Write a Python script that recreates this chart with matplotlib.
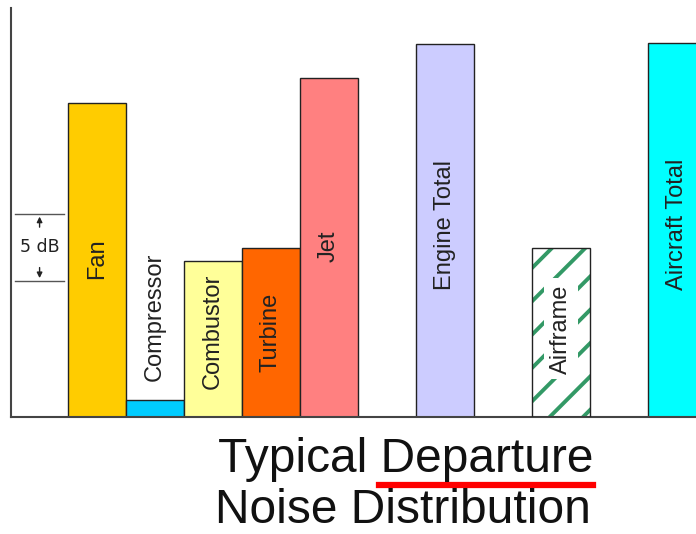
import matplotlib

matplotlib.use("Agg")
import matplotlib.pyplot as plt
from matplotlib.lines import Line2D

# noise sources and their relative levels (dB above baseline)
components = ["Fan", "Compressor", "Combustor", "Turbine", "Jet",
              "Engine Total", "Airframe", "Aircraft Total"]
levels_db = [23.4, 1.3, 11.6, 12.6, 25.3, 27.8, 12.6, 27.9]
scale_db = 5

# layout / style
slots = [0, 1, 2, 3, 4, 6, 8, 10]
colors = ["#FFCC00", "#00CCFF", "#FFFF99", "#FF6600", "#FF8080",
          "#CCCCFF", "#FFFFFF", "#00FFFF"]
label_y = [11.8, 7.46, 6.42, 6.34, 12.76, 14.33, 6.57, 14.4]
scale_lo = 10.15

plt.rcParams["font.family"] = ["Liberation Sans", "DejaVu Sans"]
plt.rcParams["hatch.linewidth"] = 2.8

fig = plt.figure(figsize=(6.96, 5.34), dpi=100)
ax = fig.add_axes([11 / 696, 117 / 534, 685 / 696, 409 / 534])

for name, x, h, c in zip(components, slots, levels_db, colors):
    if name == "Airframe":
        ax.bar(x, h, width=1.0, color="white", edgecolor="#339966",
               hatch="/", linewidth=0, zorder=2)
        ax.bar(x, h, width=1.0, color="none", edgecolor="#222222",
               linewidth=1, zorder=3)
    else:
        ax.bar(x, h, width=1.0, color=c, edgecolor="#222222",
               linewidth=1, zorder=2)

for name, x, y in zip(components, slots, label_y):
    kw = {}
    if name == "Airframe":
        kw["bbox"] = dict(boxstyle="square,pad=0.25", facecolor="white",
                          edgecolor="none")
    ax.text(x, y, name, rotation=90, ha="center", va="center",
            fontsize=17, color="#222222", zorder=4, **kw)

# 5 dB scale marker
for yv in (scale_lo, scale_lo + scale_db):
    ax.plot([-1.41, -0.57], [yv, yv], color="#555555", lw=1, zorder=3)
mid = scale_lo + scale_db / 2
ax.text(-0.99, mid, "5 dB", ha="center", va="center", fontsize=12.5,
        family="DejaVu Sans", color="#222222")
arrow = dict(arrowstyle="-|>", color="#222222", lw=1, mutation_scale=8)
ax.annotate("", xy=(-0.99, scale_lo + scale_db), xytext=(-0.99, mid + 1.3),
            arrowprops=arrow)
ax.annotate("", xy=(-0.99, scale_lo), xytext=(-0.99, mid - 1.3),
            arrowprops=arrow)

ax.set_xlim(-1.483, 10.33)
ax.set_ylim(0, 30.5)
ax.set_xticks([])
ax.set_yticks([])
for side in ("top", "right"):
    ax.spines[side].set_visible(False)
for side in ("left", "bottom"):
    ax.spines[side].set_color("#444444")
    ax.spines[side].set_linewidth(1.5)

fig.text(406 / 696, 62 / 534, "Typical Departure", ha="center",
         va="baseline", fontsize=34.5, color="#111111")
fig.text(403 / 696, 11 / 534, "Noise Distribution", ha="center",
         va="baseline", fontsize=34.5, color="#111111")
fig.add_artist(Line2D([379 / 696, 593 / 696], [49 / 534, 49 / 534],
                      color="#FF0000", lw=4.5, transform=fig.transFigure))

fig.savefig("out.png", dpi=100)
